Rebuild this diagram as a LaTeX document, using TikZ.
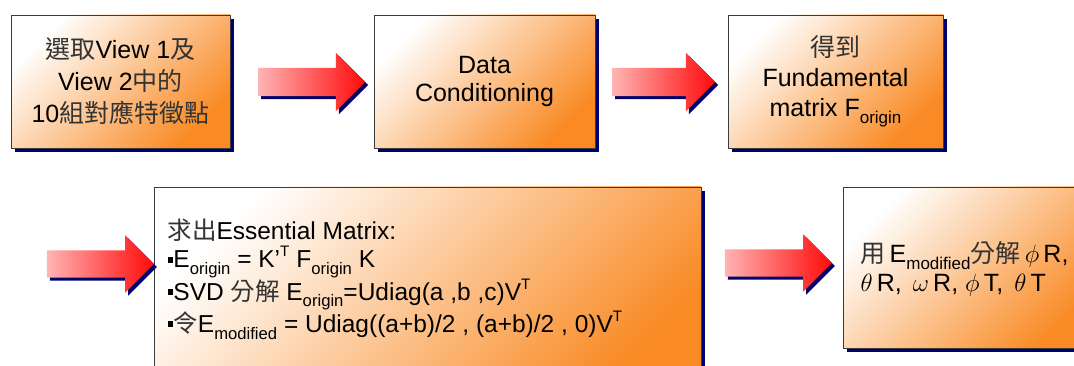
\documentclass[tikz,border=0pt]{standalone}
\usepackage{fix-cm}
\usepackage{fontspec}
\setmainfont{Liberation Sans}
\newfontfamily\cjk{Noto Sans CJK TC}
\usetikzlibrary{shapes.arrows,shadows}
\definecolor{boxor}{RGB}{249,138,36}
\definecolor{navy}{RGB}{0,0,110}
\definecolor{arrlight}{RGB}{255,180,180}
\definecolor{arrred}{RGB}{255,10,10}
\definecolor{boxline}{RGB}{60,60,60}
\newcommand\zh[1]{{\cjk\color{black!80}#1}}
\newcommand\lo[1]{\raisebox{-0.5ex}{\scalebox{0.68}{#1}}}
\newcommand\hi[1]{\raisebox{0.85ex}{\scalebox{0.62}{#1}}}
\newcommand\bul{\raisebox{0.22em}{\rule{0.24em}{0.24em}}}
\begin{document}
\begin{tikzpicture}[x=1pt,y=-1pt,
  flowbox/.style={draw=boxline, line width=0.8pt, top color=white, bottom color=boxor,
    shading angle=45, inner sep=0pt,
    general shadow={fill=navy, shadow xshift=4pt, shadow yshift=-4pt}},
  blockarrow/.style={single arrow, draw=none, left color=arrlight, right color=arrred,
    inner sep=0pt, inner ysep=14pt, single arrow head extend=15pt,
    general shadow={fill=navy, shadow xshift=3pt, shadow yshift=-3pt}},
  boxtext/.style={font=\fontsize{25}{32}\selectfont, align=center}]
\useasboundingbox (0,0) rectangle (1074,366);
\clip (0,0) rectangle (1074,366);
% top row
\node[flowbox, minimum width=219pt, minimum height=133pt, boxtext] (b1) at (120.5,81.5)
  {\zh{選取}View 1\zh{及}\\View 2\zh{中的}\\10\zh{組對應特徵點}};
\node[flowbox, minimum width=221pt, minimum height=133pt, boxtext,
  font=\fontsize{25}{28}\selectfont] (b2) at (484.5,81.5)
  {Data\\Conditioning};
\node[flowbox, minimum width=215pt, minimum height=133pt, boxtext,
  font=\fontsize{25}{30}\selectfont] (b3) at (835.5,81.5)
  {\zh{得到}\\Fundamental\\matrix F\lo{origin}};
% bottom row
\node[flowbox, minimum width=547pt, minimum height=213pt] (b4) at (427.5,293.5) {};
\node[flowbox, minimum width=257pt, minimum height=161pt] (b5) at (971.5,267.5) {};
\node[anchor=west, align=left, font=\fontsize{24.5}{28.7}\selectfont] (t4) at (164,279)
  {\zh{求出}Essential Matrix:\\
   \bul E\lo{origin} = K'\hi{T} F\lo{origin} K\\
   \bul SVD \zh{分解} E\lo{origin}=Udiag(a ,b ,c)V\hi{T}\\
   \bul\zh{令}E\lo{modified} = Udiag((a+b)/2 , (a+b)/2 , 0)V\hi{T}};
\node[anchor=west, align=left, font=\fontsize{25}{29}\selectfont] (t5) at (857,269)
  {\zh{用}\,E\lo{modified}\zh{分解}\,$\phi$\,R,\\
   $\theta$\,R, \,$\omega$\,R, $\phi$\,T, \,$\theta$\,T};
% arrows
\node[blockarrow, minimum height=107pt] (a1) at (304.5,82) {};
\node[blockarrow, minimum height=103pt] (a2) at (656.5,82) {};
\node[blockarrow, minimum height=107pt, inner ysep=13.5pt] (a3) at (93.5,264) {};
\node[blockarrow, minimum height=107pt, inner ysep=13.5pt] (a4) at (771.5,263) {};
\end{tikzpicture}
\end{document}
